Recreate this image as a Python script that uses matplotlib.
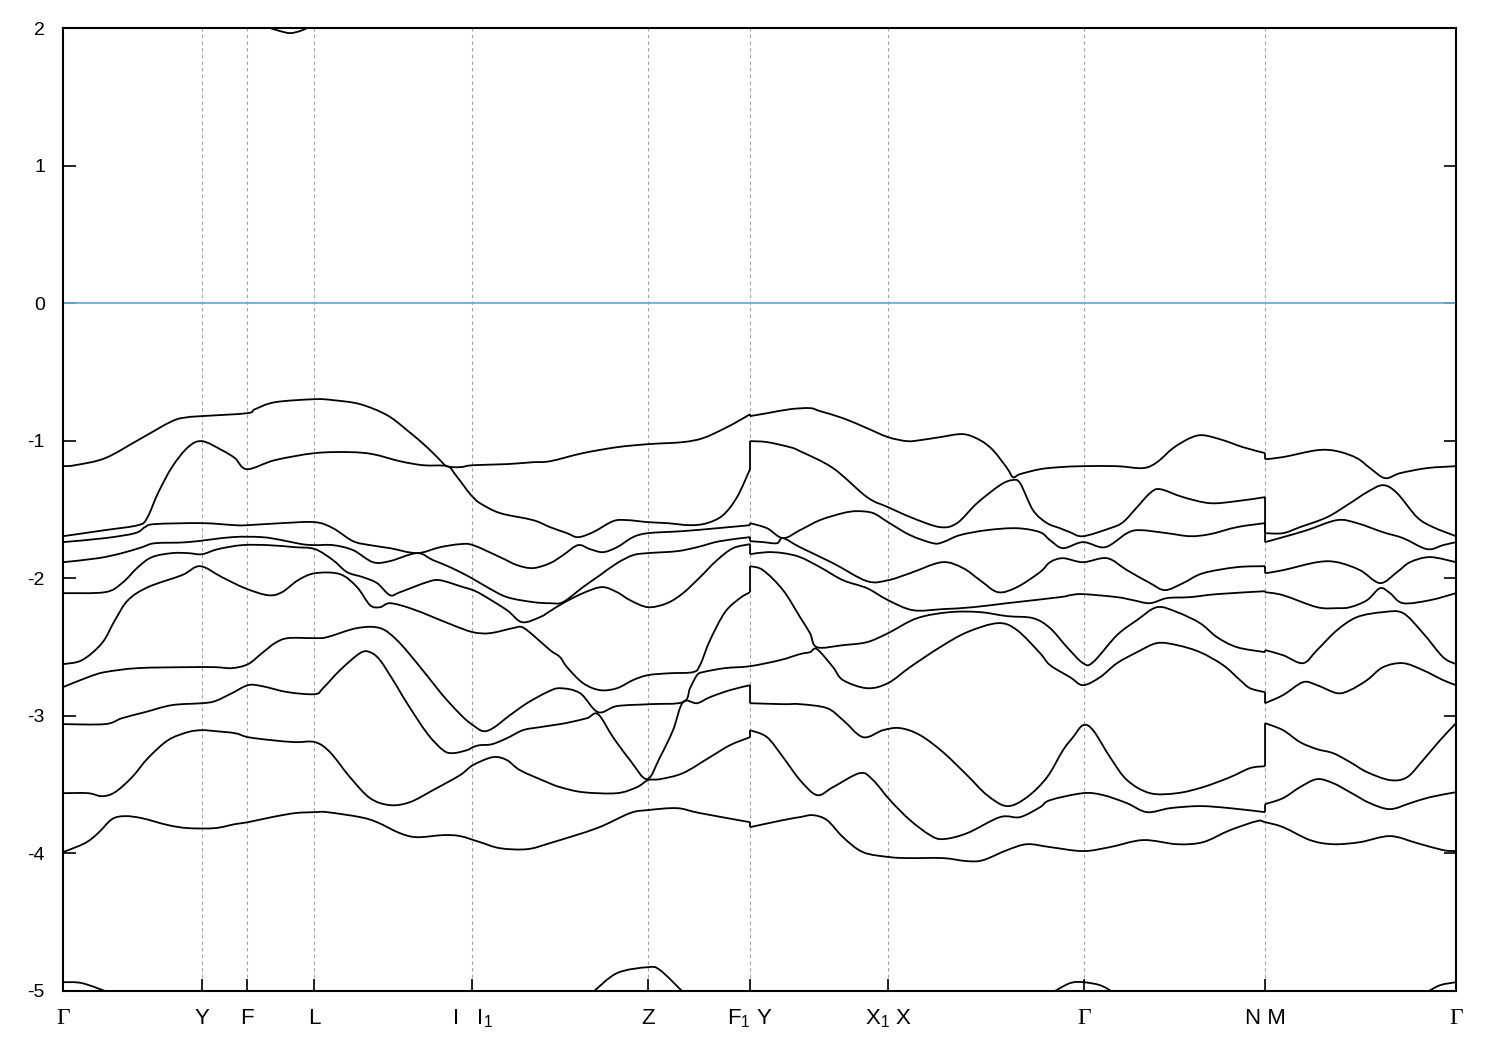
import numpy as np
import matplotlib
matplotlib.use('Agg')
import matplotlib.pyplot as plt
from matplotlib.path import Path
from matplotlib.patches import PathPatch

plt.rcParams['font.family'] = ['Liberation Sans', 'DejaVu Sans']
plt.rcParams['mathtext.fontset'] = 'custom'
plt.rcParams['mathtext.rm'] = 'Liberation Sans'
plt.rcParams['axes.unicode_minus'] = False

# k-path positions of the high-symmetry points and their labels
kpoints = [0.000, 0.139, 0.184, 0.251, 0.409, 0.585, 0.687, 0.825, 1.021, 1.202, 1.393]
klabels = ['Γ', 'Y', 'F', 'L', r'I   $\mathregular{I_1}$', 'Z', r'$\mathregular{F_1}$ Y',
           r'$\mathregular{X_1}$ X', 'Γ', 'N M', 'Γ']
fermi_level = 0.0

# bands as (k, E) pairs, top valence band first
band0 = np.array([(0.207, 2.000), (0.217, 1.978), (0.227, 1.963), (0.237, 1.978), (0.244, 2.000)])

band1 = np.array([
    (0.000, -1.185), (0.012, -1.178), (0.042, -1.127), (0.075, -0.996), (0.109, -0.858), (0.125, -0.829),
    (0.139, -0.821), (0.184, -0.800), (0.192, -0.771), (0.212, -0.720), (0.252, -0.698),
    (0.270, -0.705), (0.297, -0.734), (0.324, -0.814), (0.344, -0.923), (0.364, -1.047), (0.377, -1.141),
    (0.384, -1.185), (0.397, -1.192), (0.410, -1.178),
    (0.444, -1.170), (0.470, -1.156), (0.487, -1.149), (0.520, -1.090), (0.554, -1.047), (0.585, -1.025),
    (0.620, -1.010), (0.640, -0.981), (0.660, -0.916), (0.677, -0.850), (0.687, -0.807),
    (0.687, -0.821), (0.704, -0.800), (0.727, -0.771), (0.747, -0.763), (0.757, -0.785), (0.780, -0.836),
    (0.804, -0.909), (0.825, -0.974),
    (0.844, -1.003), (0.857, -0.996), (0.877, -0.974), (0.900, -0.952), (0.917, -0.996), (0.930, -1.069),
    (0.944, -1.199), (0.950, -1.265), (0.957, -1.243), (0.977, -1.207), (0.997, -1.192), (1.020, -1.185),
    (1.054, -1.185), (1.080, -1.199), (1.094, -1.156), (1.110, -1.054), (1.127, -0.981), (1.140, -0.960),
    (1.160, -0.996), (1.180, -1.047), (1.202, -1.090),
    (1.202, -1.134), (1.220, -1.119), (1.254, -1.069), (1.274, -1.076), (1.294, -1.127), (1.307, -1.199),
    (1.322, -1.272), (1.337, -1.236), (1.364, -1.199), (1.393, -1.185)])

band2 = np.array([
    (0.000, -1.694), (0.042, -1.650), (0.075, -1.614), (0.084, -1.563), (0.095, -1.381), (0.109, -1.192),
    (0.125, -1.047), (0.139, -1.003), (0.159, -1.069), (0.172, -1.127), (0.184, -1.207), (0.212, -1.141),
    (0.252, -1.090),
    (0.287, -1.083), (0.310, -1.098), (0.337, -1.149), (0.360, -1.178), (0.384, -1.185), (0.392, -1.243),
    (0.404, -1.359), (0.410, -1.410),
    (0.417, -1.454), (0.437, -1.526), (0.470, -1.577), (0.487, -1.628), (0.504, -1.672), (0.515, -1.701),
    (0.530, -1.665), (0.550, -1.585), (0.564, -1.577), (0.585, -1.592), (0.604, -1.599), (0.627, -1.614),
    (0.644, -1.599), (0.660, -1.541), (0.674, -1.410), (0.687, -1.207),
    (0.687, -1.003), (0.704, -1.010), (0.727, -1.047), (0.737, -1.076), (0.770, -1.199), (0.804, -1.410),
    (0.825, -1.483),
    (0.850, -1.563), (0.877, -1.628), (0.894, -1.599), (0.914, -1.454), (0.937, -1.323), (0.949, -1.287),
    (0.957, -1.308), (0.970, -1.505), (0.984, -1.599), (0.997, -1.636), (1.007, -1.665), (1.020, -1.694),
    (1.047, -1.636), (1.060, -1.592), (1.074, -1.483), (1.087, -1.381), (1.097, -1.352), (1.120, -1.410),
    (1.147, -1.454), (1.174, -1.439), (1.202, -1.410),
    (1.202, -1.672), (1.220, -1.672), (1.237, -1.628), (1.264, -1.556), (1.287, -1.454), (1.304, -1.374),
    (1.320, -1.323), (1.334, -1.381), (1.354, -1.556), (1.370, -1.628), (1.393, -1.694)])

band3 = np.array([
    (0.000, -1.737), (0.042, -1.708), (0.072, -1.672), (0.082, -1.628), (0.092, -1.606), (0.139, -1.599),
    (0.172, -1.614), (0.184, -1.614), (0.219, -1.599), (0.252, -1.592),
    (0.270, -1.636), (0.290, -1.730), (0.307, -1.759), (0.327, -1.781), (0.354, -1.817), (0.377, -1.774),
    (0.397, -1.752), (0.410, -1.759),
    (0.437, -1.846), (0.454, -1.904), (0.470, -1.926), (0.487, -1.890), (0.500, -1.832), (0.515, -1.759),
    (0.527, -1.788), (0.540, -1.810), (0.554, -1.774), (0.570, -1.701), (0.585, -1.672), (0.620, -1.657),
    (0.654, -1.636), (0.687, -1.614),
    (0.687, -1.599), (0.704, -1.636), (0.720, -1.708), (0.737, -1.650), (0.757, -1.577), (0.780, -1.526),
    (0.794, -1.512), (0.810, -1.526), (0.825, -1.592),
    (0.847, -1.686), (0.870, -1.745), (0.880, -1.737), (0.897, -1.686), (0.924, -1.650), (0.954, -1.636),
    (0.977, -1.665), (0.987, -1.723), (1.000, -1.781), (1.020, -1.737), (1.042, -1.774), (1.064, -1.672),
    (1.077, -1.650), (1.104, -1.672), (1.127, -1.694), (1.147, -1.679), (1.174, -1.628), (1.202, -1.599),
    (1.202, -1.737), (1.220, -1.701), (1.244, -1.650), (1.274, -1.577), (1.294, -1.599), (1.320, -1.665),
    (1.340, -1.708), (1.364, -1.788), (1.380, -1.759), (1.393, -1.737)])

band4 = np.array([
    (0.000, -1.883), (0.035, -1.854), (0.059, -1.817), (0.079, -1.774), (0.092, -1.745), (0.125, -1.737),
    (0.169, -1.701), (0.199, -1.701), (0.219, -1.723), (0.239, -1.752), (0.252, -1.759),
    (0.270, -1.759), (0.290, -1.795), (0.310, -1.883), (0.327, -1.875), (0.354, -1.817), (0.370, -1.868),
    (0.387, -1.919), (0.407, -1.992),
    (0.424, -2.064), (0.444, -2.137), (0.470, -2.173), (0.487, -2.181), (0.500, -2.173), (0.520, -2.064),
    (0.537, -1.977), (0.554, -1.890), (0.570, -1.832), (0.585, -1.817), (0.614, -1.803), (0.634, -1.774),
    (0.657, -1.730), (0.687, -1.701),
    (0.687, -1.730), (0.700, -1.737), (0.714, -1.745), (0.720, -1.708), (0.737, -1.774), (0.770, -1.890),
    (0.804, -2.021), (0.825, -2.014),
    (0.847, -1.963), (0.879, -1.883), (0.900, -1.926), (0.917, -2.014), (0.935, -2.101), (0.954, -2.064),
    (0.977, -1.955), (0.987, -1.883), (1.000, -1.854), (1.020, -1.883), (1.044, -1.854), (1.064, -1.941),
    (1.087, -2.035), (1.102, -2.086), (1.120, -2.035), (1.140, -1.963), (1.174, -1.919), (1.202, -1.912),
    (1.202, -1.963), (1.220, -1.941), (1.254, -1.883), (1.274, -1.883), (1.297, -1.941), (1.317, -2.035),
    (1.334, -1.955), (1.347, -1.883), (1.367, -1.846), (1.393, -1.883)])

band5 = np.array([
    (0.000, -2.108), (0.042, -2.101), (0.059, -2.035), (0.075, -1.919), (0.089, -1.846), (0.109, -1.817),
    (0.125, -1.817), (0.139, -1.825), (0.155, -1.788), (0.179, -1.759), (0.205, -1.759), (0.232, -1.774),
    (0.252, -1.788),
    (0.270, -1.868), (0.284, -1.955), (0.300, -1.992), (0.314, -2.035), (0.327, -2.123), (0.337, -2.101),
    (0.364, -2.028), (0.377, -2.014), (0.400, -2.064), (0.410, -2.086),
    (0.420, -2.123), (0.444, -2.232), (0.459, -2.319), (0.477, -2.282), (0.487, -2.239), (0.500, -2.181),
    (0.520, -2.108), (0.539, -2.064), (0.554, -2.101), (0.567, -2.159), (0.585, -2.210), (0.604, -2.181),
    (0.620, -2.108), (0.637, -1.992), (0.654, -1.868), (0.670, -1.781), (0.687, -1.752),
    (0.687, -1.825), (0.704, -1.810), (0.720, -1.817), (0.737, -1.846), (0.757, -1.919), (0.780, -2.014),
    (0.804, -2.072), (0.825, -2.159),
    (0.850, -2.232), (0.880, -2.224), (0.910, -2.210), (0.944, -2.181), (0.997, -2.137), (1.007, -2.123),
    (1.020, -2.115), (1.054, -2.137), (1.070, -2.159), (1.087, -2.181), (1.104, -2.144), (1.127, -2.137),
    (1.154, -2.115), (1.202, -2.094),
    (1.202, -2.101), (1.220, -2.123), (1.254, -2.210), (1.274, -2.217), (1.287, -2.210), (1.304, -2.159),
    (1.317, -2.072), (1.327, -2.108), (1.340, -2.181), (1.367, -2.159), (1.393, -2.108)])

band6 = np.array([
    (0.000, -2.624), (0.019, -2.595), (0.039, -2.471), (0.052, -2.304), (0.065, -2.159), (0.085, -2.064),
    (0.119, -1.977), (0.137, -1.912), (0.159, -1.992), (0.182, -2.072), (0.205, -2.123), (0.219, -2.101),
    (0.235, -2.014), (0.252, -1.963),
    (0.277, -1.970), (0.294, -2.064), (0.307, -2.195), (0.317, -2.210), (0.327, -2.181), (0.347, -2.217),
    (0.370, -2.282), (0.390, -2.341), (0.410, -2.392),
    (0.427, -2.399), (0.450, -2.362), (0.459, -2.355), (0.470, -2.413), (0.487, -2.522), (0.497, -2.573),
    (0.504, -2.646), (0.520, -2.762), (0.537, -2.813), (0.554, -2.799), (0.570, -2.740), (0.585, -2.704),
    (0.607, -2.690), (0.630, -2.682), (0.637, -2.631), (0.647, -2.450), (0.662, -2.246), (0.677, -2.144),
    (0.687, -2.101),
    (0.687, -1.912), (0.700, -1.941), (0.720, -2.086), (0.737, -2.282), (0.747, -2.399), (0.754, -2.501),
    (0.780, -2.486), (0.804, -2.464), (0.825, -2.399),
    (0.854, -2.290), (0.887, -2.246), (0.917, -2.246), (0.944, -2.275), (0.970, -2.290), (0.987, -2.362),
    (1.004, -2.501), (1.020, -2.617), (1.030, -2.610), (1.054, -2.413), (1.074, -2.304), (1.094, -2.210),
    (1.114, -2.246), (1.137, -2.326), (1.154, -2.428), (1.174, -2.501), (1.202, -2.537),
    (1.202, -2.522), (1.220, -2.559), (1.240, -2.617), (1.254, -2.522), (1.274, -2.377), (1.294, -2.282),
    (1.320, -2.246), (1.340, -2.253), (1.360, -2.399), (1.380, -2.573), (1.393, -2.624)])

band7 = np.array([
    (0.000, -2.791), (0.025, -2.719), (0.042, -2.682), (0.075, -2.653), (0.125, -2.646), (0.152, -2.646),
    (0.169, -2.653), (0.185, -2.624), (0.199, -2.544), (0.212, -2.471), (0.225, -2.435), (0.252, -2.435),
    (0.264, -2.428), (0.294, -2.362), (0.317, -2.362), (0.334, -2.450), (0.354, -2.617), (0.374, -2.799),
    (0.384, -2.886), (0.400, -3.009), (0.410, -3.068),
    (0.420, -3.111), (0.430, -3.089), (0.447, -2.995), (0.464, -2.908), (0.484, -2.828), (0.497, -2.799),
    (0.517, -2.835), (0.535, -2.973), (0.554, -2.929), (0.587, -2.915), (0.620, -2.900), (0.627, -2.799),
    (0.634, -2.704), (0.640, -2.682), (0.662, -2.653), (0.687, -2.639),
    (0.717, -2.595), (0.737, -2.551), (0.747, -2.537), (0.754, -2.515), (0.770, -2.646), (0.780, -2.740),
    (0.804, -2.799), (0.825, -2.762),
    (0.847, -2.646), (0.877, -2.501), (0.904, -2.392), (0.935, -2.326), (0.954, -2.377), (0.977, -2.544),
    (0.987, -2.631), (1.007, -2.719), (1.020, -2.777), (1.037, -2.719), (1.054, -2.617), (1.074, -2.537),
    (1.094, -2.471), (1.114, -2.486), (1.137, -2.537), (1.160, -2.631), (1.177, -2.740), (1.187, -2.799),
    (1.202, -2.828),
    (1.202, -2.908), (1.220, -2.849), (1.240, -2.755), (1.254, -2.777), (1.274, -2.835), (1.287, -2.813),
    (1.304, -2.740), (1.320, -2.646), (1.340, -2.617), (1.360, -2.668), (1.380, -2.740), (1.393, -2.777)])

band8 = np.array([
    (0.000, -3.060), (0.042, -3.060), (0.059, -3.017), (0.082, -2.973), (0.109, -2.922), (0.139, -2.908),
    (0.152, -2.893), (0.169, -2.835), (0.185, -2.777), (0.199, -2.784), (0.225, -2.828), (0.252, -2.842),
    (0.260, -2.799), (0.277, -2.668), (0.297, -2.544), (0.307, -2.537), (0.317, -2.595), (0.330, -2.740),
    (0.335, -2.799), (0.344, -2.908), (0.364, -3.126), (0.380, -3.249), (0.390, -3.271), (0.404, -3.249),
    (0.410, -3.227),
    (0.417, -3.213), (0.429, -3.206), (0.444, -3.162), (0.460, -3.104), (0.477, -3.082), (0.497, -3.060),
    (0.507, -3.046), (0.524, -3.017), (0.535, -2.988), (0.550, -3.155), (0.567, -3.322), (0.584, -3.460),
    (0.597, -3.300), (0.610, -3.104), (0.620, -2.900), (0.634, -2.908), (0.647, -2.864), (0.667, -2.813),
    (0.687, -2.777),
    (0.687, -2.908), (0.720, -2.915), (0.737, -2.915), (0.764, -2.944), (0.780, -3.031), (0.800, -3.155),
    (0.820, -3.104), (0.837, -3.089),
    (0.857, -3.140), (0.880, -3.264), (0.904, -3.431), (0.924, -3.576), (0.944, -3.656), (0.964, -3.591),
    (0.984, -3.446), (1.000, -3.249), (1.010, -3.155), (1.020, -3.068), (1.030, -3.104), (1.047, -3.300),
    (1.064, -3.467), (1.087, -3.562), (1.114, -3.562), (1.140, -3.518), (1.167, -3.446), (1.187, -3.380),
    (1.202, -3.366),
    (1.202, -3.053), (1.220, -3.104), (1.237, -3.191), (1.254, -3.242), (1.270, -3.271), (1.287, -3.336),
    (1.304, -3.409), (1.327, -3.467), (1.344, -3.446), (1.360, -3.322), (1.377, -3.177), (1.393, -3.053)])

band9 = np.array([
    (0.000, -3.562), (0.025, -3.562), (0.039, -3.584), (0.052, -3.555), (0.069, -3.446), (0.085, -3.307),
    (0.105, -3.177), (0.125, -3.118), (0.139, -3.104), (0.152, -3.111), (0.172, -3.126), (0.185, -3.155),
    (0.209, -3.177), (0.232, -3.191), (0.252, -3.191),
    (0.267, -3.264), (0.287, -3.446), (0.307, -3.598), (0.327, -3.649), (0.347, -3.627), (0.370, -3.540),
    (0.397, -3.431), (0.410, -3.358),
    (0.430, -3.300), (0.444, -3.322), (0.457, -3.395), (0.484, -3.482), (0.497, -3.518), (0.520, -3.555),
    (0.554, -3.562), (0.574, -3.518), (0.585, -3.467), (0.597, -3.460), (0.620, -3.416), (0.647, -3.300),
    (0.667, -3.213), (0.687, -3.155),
    (0.687, -3.104), (0.704, -3.155), (0.720, -3.300), (0.737, -3.467), (0.754, -3.576), (0.770, -3.518),
    (0.797, -3.416), (0.810, -3.467), (0.827, -3.613),
    (0.847, -3.758), (0.867, -3.867), (0.880, -3.896), (0.904, -3.853), (0.937, -3.736), (0.957, -3.736),
    (0.977, -3.664), (0.987, -3.613), (1.020, -3.562), (1.040, -3.576), (1.064, -3.635), (1.084, -3.700),
    (1.107, -3.671), (1.137, -3.656), (1.167, -3.671), (1.202, -3.700),
    (1.202, -3.642), (1.220, -3.598), (1.237, -3.518), (1.254, -3.460), (1.270, -3.489), (1.287, -3.555),
    (1.307, -3.635), (1.327, -3.678), (1.347, -3.635), (1.367, -3.591), (1.393, -3.555)])

band10 = np.array([
    (0.000, -3.991), (0.022, -3.925), (0.035, -3.853), (0.049, -3.751), (0.062, -3.729), (0.079, -3.744),
    (0.105, -3.794), (0.125, -3.816), (0.152, -3.816), (0.172, -3.787), (0.185, -3.773), (0.209, -3.736),
    (0.232, -3.707), (0.252, -3.700),
    (0.264, -3.700), (0.297, -3.736), (0.314, -3.773), (0.337, -3.853), (0.354, -3.882), (0.380, -3.867),
    (0.397, -3.874), (0.417, -3.918),
    (0.437, -3.962), (0.464, -3.969), (0.487, -3.925), (0.534, -3.816), (0.567, -3.707), (0.585, -3.685),
    (0.614, -3.671), (0.637, -3.707), (0.687, -3.773),
    (0.687, -3.809), (0.720, -3.758), (0.737, -3.736), (0.750, -3.722), (0.764, -3.758), (0.780, -3.882),
    (0.800, -3.991), (0.827, -4.027),
    (0.847, -4.034), (0.880, -4.034), (0.904, -4.056), (0.920, -4.049), (0.944, -3.976), (0.964, -3.933),
    (0.987, -3.954), (1.020, -3.983), (1.047, -3.954), (1.080, -3.903), (1.114, -3.933), (1.140, -3.918),
    (1.167, -3.831), (1.194, -3.765), (1.202, -3.773),
    (1.220, -3.809), (1.247, -3.903), (1.270, -3.933), (1.297, -3.918), (1.327, -3.874), (1.354, -3.925),
    (1.380, -3.976), (1.393, -3.983)])

# lowest band only shows where it rises above -5 eV
band11 = np.array([
    (0.000, -4.936), (0.019, -4.943), (0.045, -5.008), (np.nan, np.nan),
    (0.530, -5.008), (0.554, -4.870), (0.585, -4.827), (0.597, -4.848), (0.620, -5.008), (np.nan, np.nan),
    (0.990, -5.008), (1.007, -4.943), (1.020, -4.936), (1.037, -4.958), (1.050, -5.008), (np.nan, np.nan),
    (1.364, -5.008), (1.377, -4.958), (1.393, -4.936)])

bands = [band0, band1, band2, band3, band4, band5, band6, band7, band8, band9, band10, band11]


def band_path(pts):
    # smooth curve through the points (Catmull-Rom as cubic Bezier),
    # straight vertical steps where two points share the same k
    verts, codes = [], []
    runs, cur = [], []
    for p in pts:
        if np.isnan(p[0]):
            if cur:
                runs.append((cur, False))
            cur = []
            continue
        if cur and p[0] <= cur[-1][0]:
            runs.append((cur, True))
            cur = []
        cur.append(p)
    if cur:
        runs.append((cur, False))
    prev_end = None
    for run, joined in runs:
        run = np.array(run)
        if prev_end is not None:
            verts += [prev_end, run[0]]
            codes += [Path.MOVETO, Path.LINETO]
        verts.append(run[0])
        codes.append(Path.MOVETO)
        n = len(run)
        for i in range(n - 1):
            p0 = run[i - 1] if i > 0 else run[i]
            p1, p2 = run[i], run[i + 1]
            p3 = run[i + 2] if i + 2 < n else run[i + 1]
            verts += [p1 + (p2 - p0) / 6.0, p2 - (p3 - p1) / 6.0, p2]
            codes += [Path.CURVE4] * 3
        prev_end = run[-1] if joined else None
    return Path(np.array(verts), codes)


fig = plt.figure(figsize=(15, 10.5), dpi=100)
ax = fig.add_axes([0.042, 0.0562, 0.9287, 0.9171])

# dashed lines at the inner high-symmetry points
for kp in kpoints[1:-1]:
    ax.axvline(kp, color='#a0a0a0', lw=0.8, ls=(0, (3, 3)), zorder=1)

ax.axhline(fermi_level, color='#56b4e9', lw=1.3, zorder=2)

for b in bands:
    ax.add_patch(PathPatch(band_path(b), facecolor='none', edgecolor='black', lw=1.3, zorder=3))

ax.set_xlim(kpoints[0], kpoints[-1])
ax.set_ylim(-5, 2)
ax.set_yticks(np.arange(-5, 3, 1))
ax.set_xticks(kpoints)
ax.set_xticklabels(klabels)

ax.tick_params(axis='y', direction='in', length=9, width=1.2, left=True, right=True,
               labelsize=14, pad=13)
ax.tick_params(axis='x', direction='in', length=9, width=1.2, bottom=True, top=False,
               labelsize=16, pad=12)
for lab in ax.get_xticklabels():
    if lab.get_text() == 'Γ':
        lab.set_fontfamily('Liberation Serif')
        lab.set_fontsize(17)

for sp in ax.spines.values():
    sp.set_linewidth(1.5)

fig.savefig('out.png', dpi=100)
